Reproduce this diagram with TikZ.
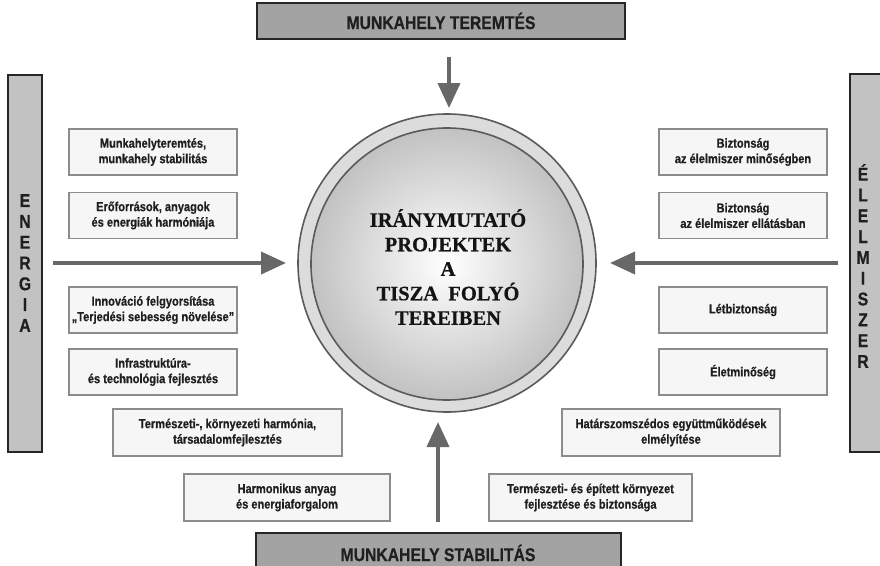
\documentclass[tikz,border=0pt]{standalone}
\usepackage{fontspec}
\setmainfont{Liberation Sans}
\newfontfamily\cb[FakeStretch=0.85,FakeBold=0.6]{Liberation Sans Bold}
\newfontfamily\titlefont[FakeBold=0.5]{Liberation Serif Bold}
\usetikzlibrary{arrows.meta}
\definecolor{barfill}{HTML}{C2C2C2}
\definecolor{headfill}{HTML}{A3A3A3}
\definecolor{boxfill}{HTML}{F6F6F6}
\definecolor{boxline}{HTML}{8C8C8C}
\definecolor{arrcol}{HTML}{686868}
\definecolor{ringfill}{HTML}{DCDCDC}
\definecolor{ringline}{HTML}{5A5A5A}
\tikzset{
  sbox/.style={draw=boxline, fill=boxfill, line width=1.3pt, minimum width=168pt,
    minimum height=46pt, inner sep=0pt, align=center,
    font=\cb\fontsize{13}{15.5}\selectfont, text=black!88},
  bar/.style={draw=black!85, line width=2pt, inner sep=0pt},
  bartext/.style={font=\cb\fontsize{18.5}{20.8}\selectfont, align=center, inner sep=0pt, text=black!88},
  headtext/.style={font=\cb\fontsize{18.5}{20}\selectfont, inner sep=0pt, text=black!88},
  arr/.style={draw=arrcol, line width=3.8pt, -{Triangle[length=25pt,width=22pt]}, arrcol, shorten >=0pt}
}
\begin{document}
\begin{tikzpicture}[x=1pt,y=-1pt]
\useasboundingbox (0,0) rectangle (880,565);
% side bars
\path[bar, fill=barfill] (8,75) rectangle (42,452);
\path[bar, fill=barfill] (850,74) rectangle (890,452);
\node[bartext] (energia) at (25,263) {E\\N\\E\\R\\G\\I\\A};
\node[bartext] (elelmiszer) at (863,266) {É\\L\\E\\L\\M\\I\\S\\Z\\E\\R};
% top and bottom bars
\path[bar, fill=headfill] (257,3) rectangle (625,39);
\node[headtext] (top) at (441,21) {MUNKAHELY TEREMTÉS};
\path[bar, fill=headfill] (256,533) rectangle (621,575);
\node[headtext] (bottom) at (438,553) {MUNKAHELY STABILITÁS};
% circle
\node[circle, draw=ringline, line width=1.6pt, fill=ringfill, minimum size=298pt, inner sep=0pt] (outer) at (447,263) {};
\node[circle, draw=ringline, line width=1.6pt, inner color=white, outer color=black!24, minimum size=272pt, inner sep=0pt] (inner) at (447,264) {};
\node[font=\titlefont\fontsize{20.5}{24.5}\selectfont, align=center, text=black!92] (title) at (448,267) {IRÁNYMUTATÓ\\PROJEKTEK\\A\\TISZA\ \ FOLYÓ\\TEREIBEN};
% left boxes
\node[sbox] (l1) at (153,152) {Munkahelyteremtés,\\munkahely stabilitás};
\node[sbox] (l2) at (153,215.5) {Erőforrások, anyagok\\és energiák harmóniája};
\node[sbox] (l3) at (153,310) {Innováció felgyorsítása\\„Terjedési sebesség növelése”};
\node[sbox] (l4) at (153,372) {Infrastruktúra-\\és technológia fejlesztés};
\node[sbox, minimum width=229pt, minimum height=47pt] (l5) at (227.5,432.5) {Természeti-, környezeti harmónia,\\társadalomfejlesztés};
\node[sbox, minimum width=206pt, minimum height=47pt] (l6) at (287,497.5) {Harmonikus anyag\\és energiaforgalom};
% right boxes
\node[sbox] (r1) at (743,152) {Biztonság\\az élelmiszer minőségben};
\node[sbox] (r2) at (743,215.5) {Biztonság\\az élelmiszer ellátásban};
\node[sbox] (r3) at (743,310) {Létbiztonság};
\node[sbox] (r4) at (743,372) {Életminőség};
\node[sbox, minimum width=218pt, minimum height=47pt] (r5) at (671,432.5) {Határszomszédos együttműködések\\elmélyítése};
\node[sbox, minimum width=203pt, minimum height=47pt] (r6) at (590.5,497.5) {Természeti- és épített környezet\\fejlesztése és biztonsága};
% arrows
\coordinate (la) at (53,263); \coordinate (lb) at (286,263);
\coordinate (ra) at (838,263); \coordinate (rb) at (610,263);
\coordinate (ta) at (449,57); \coordinate (tb) at (449,108);
\coordinate (ba) at (438,522); \coordinate (bb) at (438,422);
\draw[arr] (la) -- (lb);
\draw[arr] (ra) -- (rb);
\draw[arr] (ta) -- (tb);
\draw[arr] (ba) -- (bb);
\end{tikzpicture}
\end{document}
